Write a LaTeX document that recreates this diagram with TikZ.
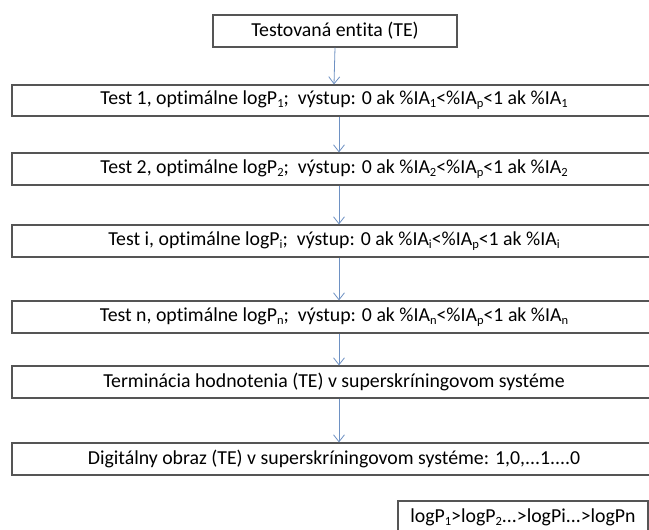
\documentclass[tikz,border=0pt]{standalone}
\usepackage{fontspec}
\setmainfont[Ligatures=NoCommon]{Carlito}
\usetikzlibrary{arrows.meta}
\definecolor{framegray}{RGB}{85,85,85}
\definecolor{flowblue}{RGB}{110,145,195}
% lowered, smaller index text
\newcommand\lowidx[1]{\raisebox{-0.32ex}{\fontsize{12.5}{12.5}\selectfont #1}}
\begin{document}
\begin{tikzpicture}[x=1pt,y=-1pt,
  stepbox/.style={draw=framegray, line width=1.2pt, fill=white, inner sep=0pt,
    font=\fontsize{19.8}{23}\selectfont},
  flow/.style={draw=flowblue, line width=0.8pt,
    -{Straight Barb[length=7pt,width=11pt,line width=0.8pt]}}]
\useasboundingbox (0,0) rectangle (649,530);
\clip (0,0) rectangle (649,530);
\fill[white] (0,0) rectangle (649,530);

\node[stepbox, minimum width=244pt, minimum height=32pt] (te) at (335,31) {Testovaná entita (TE)};
\node[stepbox, minimum width=644pt, minimum height=31pt] (t1) at (334,100.5)
  {Test 1, optimálne logP\lowidx{1};\ \ výstup: 0 ak \%IA\lowidx{1}<\%IA\lowidx{p}<1 ak \%IA\lowidx{1}};
\node[stepbox, minimum width=644pt, minimum height=32pt] (t2) at (334,169)
  {Test 2, optimálne logP\lowidx{2};\ \ výstup: 0 ak \%IA\lowidx{2}<\%IA\lowidx{p}<1 ak \%IA\lowidx{2}};
\node[stepbox, minimum width=644pt, minimum height=32pt] (ti) at (334,241)
  {Test i, optimálne logP\lowidx{i};\ \ výstup: 0 ak \%IA\lowidx{i}<\%IA\lowidx{p}<1 ak \%IA\lowidx{i}};
\node[stepbox, minimum width=644pt, minimum height=32pt] (tn) at (334,317)
  {Test n, optimálne logP\lowidx{n};\ \ výstup: 0 ak \%IA\lowidx{n}<\%IA\lowidx{p}<1 ak \%IA\lowidx{n}};
\node[stepbox, minimum width=644pt, minimum height=32pt] (term) at (334,382)
  {Terminácia hodnotenia (TE) v superskríningovom systéme};
\node[stepbox, minimum width=644pt, minimum height=32pt] (dig) at (334,459)
  {Digitálny obraz (TE) v superskríningovom systéme: 1,0,...1....0};
\node[stepbox, minimum width=250pt, minimum height=32pt] (ord) at (523,517)
  {logP\lowidx{1}>logP\lowidx{2}...>logPi...>logPn};

\draw[flow] (te.south) -- (t1.north);
\draw[flow] ([xshift=5pt]t1.south) -- ([xshift=5pt]t2.north);
\draw[flow] ([xshift=5pt]t2.south) -- ([xshift=5pt]ti.north);
\draw[flow] ([xshift=5pt]ti.south) -- ([xshift=5pt]tn.north);
\draw[flow] ([xshift=5pt]tn.south) -- ([xshift=5pt]term.north);
\draw[flow] ([xshift=5pt]term.south) -- ([xshift=5pt]dig.north);
\end{tikzpicture}
\end{document}
